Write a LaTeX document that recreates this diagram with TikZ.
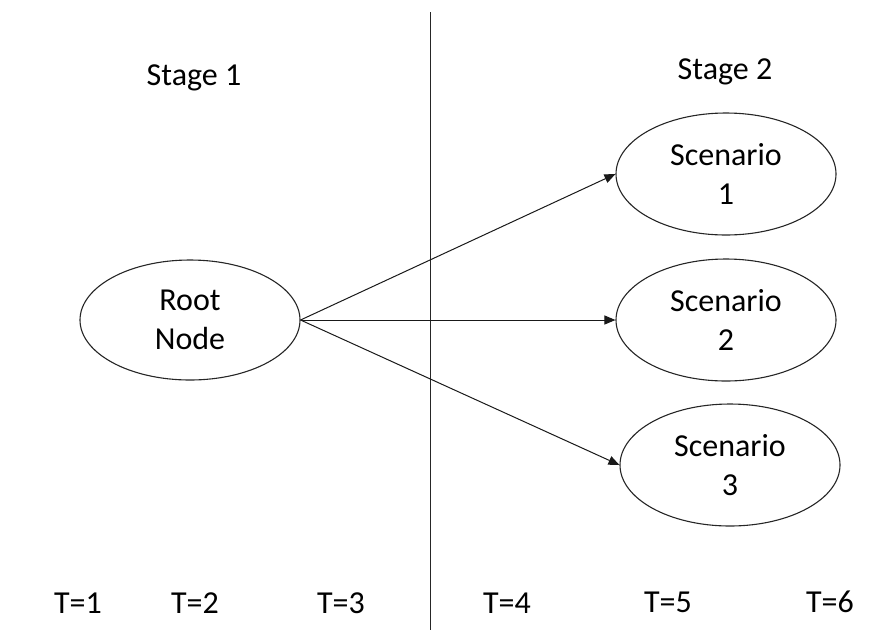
\documentclass[tikz,border=0pt]{standalone}
\usepackage{fontspec}
\setmainfont{Carlito}
\usetikzlibrary{shapes.geometric,arrows.meta}
\tikzset{
  oval/.style={draw=black!85, line width=1.1pt, ellipse, inner sep=0pt,
    minimum width=220pt, minimum height=122pt, align=center,
    font=\fontsize{32}{39}\selectfont},
  lbl/.style={anchor=base, inner sep=0pt, font=\fontsize{32}{39}\selectfont},
  conn/.style={draw=black!90, line width=1pt, -{Triangle[length=11pt,width=9pt]}}
}
\begin{document}
\begin{tikzpicture}[x=1pt,y=-1pt]
\useasboundingbox (0,0) rectangle (880,630);
\coordinate (vtop) at (430,12);
\coordinate (vbot) at (430,630);
\draw[black!85, line width=1pt] (vtop) -- (vbot);
\node[lbl] (stage1) at (194,85) {Stage 1};
\node[lbl] (stage2) at (725,79) {Stage 2};
\node[oval, minimum height=120pt] (root) at (190,320) {Root\\Node};
\node[oval] (s1) at (726,174) {Scenario\\1};
\node[oval] (s2) at (726,320) {Scenario\\2};
\node[oval] (s3) at (730,465) {Scenario\\3};
\draw[conn] (root.east) -- (s1.west);
\draw[conn] (root.east) -- (s2.west);
\draw[conn] (root.east) -- (s3.west);
\node[lbl] (t1) at (78,613) {T=1};
\node[lbl] (t2) at (195,613) {T=2};
\node[lbl] (t3) at (341,613) {T=3};
\node[lbl] (t4) at (507,613) {T=4};
\node[lbl] (t5) at (668,612) {T=5};
\node[lbl] (t6) at (830,612) {T=6};
\end{tikzpicture}
\end{document}
